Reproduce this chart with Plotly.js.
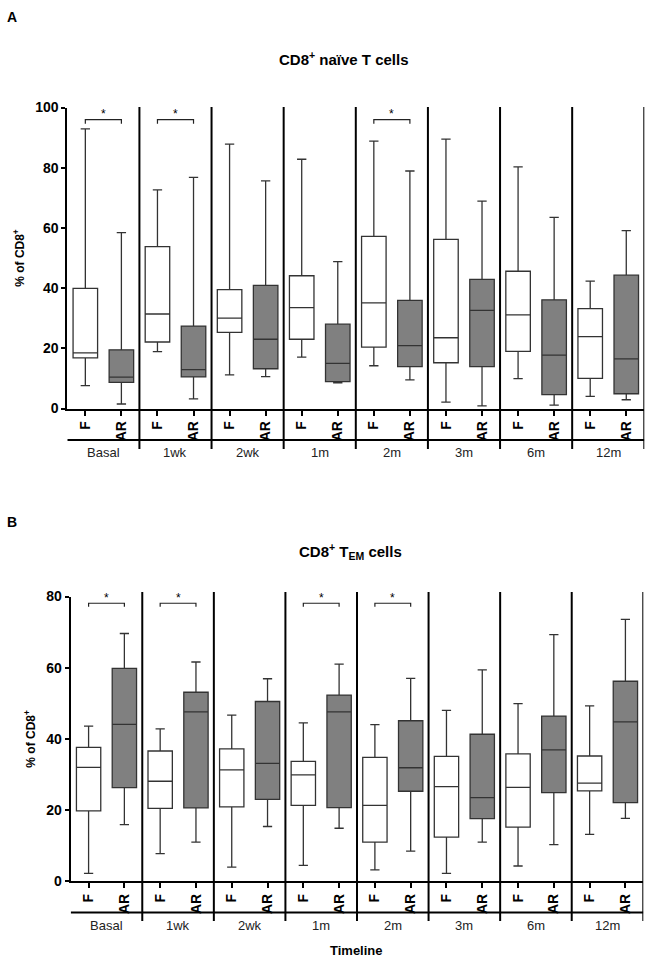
<!DOCTYPE html>
<html>
<head>
<meta charset="utf-8">
<script src="https://cdn.plot.ly/plotly-3.0.1.min.js"></script>
<style>html,body{margin:0;padding:0;background:#fff;}#chart{width:652px;height:960px;}</style>
</head>
<body>
<div id="chart"></div>
<script>
// ---------- DATA ----------
const groups = ['Basal', '1wk', '2wk', '1m', '2m', '3m', '6m', '12m'];
const subLabels = ['F', 'AR'];

// Panel A: CD8+ naive T cells (% of CD8+)
const naiveF_lo  = [7.6, 18.9, 11.2, 17.1, 14.2, 2.1, 9.9, 4.0];
const naiveF_q1  = [16.8, 22.1, 25.3, 23.0, 20.4, 15.2, 19.0, 10.0];
const naiveF_med = [18.5, 31.4, 30.0, 33.5, 35.1, 23.5, 31.1, 23.9];
const naiveF_q3  = [39.9, 53.8, 39.5, 44.1, 57.2, 56.2, 45.6, 33.2];
const naiveF_hi  = [92.9, 72.6, 87.8, 82.8, 88.8, 89.5, 80.3, 42.3];

const naiveAR_lo  = [1.5, 3.2, 10.6, 8.5, 9.5, 0.9, 1.1, 2.9];
const naiveAR_q1  = [8.7, 10.5, 13.2, 8.9, 13.9, 13.9, 4.6, 4.9];
const naiveAR_med = [10.4, 12.9, 23.0, 15.0, 20.9, 32.6, 17.7, 16.5];
const naiveAR_q3  = [19.5, 27.4, 40.9, 28.0, 35.9, 42.9, 36.1, 44.3];
const naiveAR_hi  = [58.4, 76.8, 75.6, 48.8, 78.9, 68.9, 63.5, 59.1];

// Panel B: CD8+ TEM cells (% of CD8+)
const temF_lo  = [2.2, 7.8, 4.0, 4.5, 3.2, 2.2, 4.3, 13.2];
const temF_q1  = [19.8, 20.5, 20.9, 21.3, 11.0, 12.4, 15.2, 25.4];
const temF_med = [32.0, 28.1, 31.3, 29.9, 21.3, 26.6, 26.4, 27.6];
const temF_q3  = [37.6, 36.6, 37.2, 33.7, 34.8, 35.1, 35.8, 35.2];
const temF_hi  = [43.6, 42.8, 46.7, 44.5, 44.0, 48.0, 49.9, 49.3];

const temAR_lo  = [15.9, 11.0, 15.4, 14.9, 8.5, 11.0, 10.3, 17.7];
const temAR_q1  = [26.3, 20.6, 23.0, 20.7, 25.3, 17.6, 24.9, 22.1];
const temAR_med = [44.1, 47.6, 33.1, 47.6, 31.9, 23.5, 36.9, 44.8];
const temAR_q3  = [59.8, 53.1, 50.5, 52.3, 45.1, 41.3, 46.4, 56.2];
const temAR_hi  = [69.6, 61.6, 56.9, 61.0, 57.0, 59.4, 69.3, 73.6];

// significant comparisons (F vs AR) per panel
const naiveSig = ['Basal', '1wk', '2m'];
const temSig   = ['Basal', '1wk', '1m', '2m'];

// ---------- HELPERS ----------
const W = 652, H = 960;
const px = v => v / W;
const py = v => 1 - v / H;
const FONT = 'Liberation Sans, Arial, sans-serif';
const posF  = groups.map((g, i) => 2 * i);
const posAR = groups.map((g, i) => 2 * i + 1);

function boxTrace(x, lo, q1, med, q3, hi, fill, xa, ya, name) {
  return {
    type: 'box', name: name, x: x,
    lowerfence: lo, q1: q1, median: med, q3: q3, upperfence: hi,
    xaxis: xa, yaxis: ya,
    fillcolor: fill,
    line: {color: '#333333', width: 1.3},
    width: 0.68, whiskerwidth: 0.38,
    boxpoints: false, showlegend: false, hoverinfo: 'y'
  };
}

const data = [
  boxTrace(posF,  naiveF_lo,  naiveF_q1,  naiveF_med,  naiveF_q3,  naiveF_hi,  '#ffffff', 'x', 'y', 'F'),
  boxTrace(posAR, naiveAR_lo, naiveAR_q1, naiveAR_med, naiveAR_q3, naiveAR_hi, '#808080', 'x', 'y', 'AR'),
  boxTrace(posF,  temF_lo,  temF_q1,  temF_med,  temF_q3,  temF_hi,  '#ffffff', 'x2', 'y2', 'F'),
  boxTrace(posAR, temAR_lo, temAR_q1, temAR_med, temAR_q3, temAR_hi, '#808080', 'x2', 'y2', 'AR')
];

const tickvals = groups.flatMap((g, i) => [2 * i, 2 * i + 1]);
const ticktext = groups.flatMap(() => subLabels);

function xAxis(domain, anchor) {
  return {
    domain: domain, anchor: anchor, range: [-0.5, 15.5],
    showline: true, linecolor: '#000', linewidth: 2,
    ticks: 'outside', ticklen: 5, tickwidth: 2, tickcolor: '#000',
    tickvals: tickvals, ticktext: ticktext, tickangle: -90,
    tickfont: {family: FONT, size: 14, color: '#000', weight: 'bold'},
    showgrid: false, zeroline: false, fixedrange: true
  };
}
function yAxis(domain, anchor, max) {
  return {
    domain: domain, anchor: anchor, range: [0, max],
    showline: true, linecolor: '#000', linewidth: 2,
    ticks: 'outside', ticklen: 4, tickwidth: 2, tickcolor: '#000',
    dtick: 20, tick0: 0,
    tickfont: {family: FONT, size: 14, color: '#000', weight: 'bold'},
    showgrid: false, zeroline: false, fixedrange: true,
    title: {text: '% of CD8<sup>+</sup>', standoff: 8,
            font: {family: FONT, size: 12, color: '#000', weight: 'bold'}}
  };
}

const shapes = [];
const annotations = [];

function panelDecor(xref, topPx, bottomLinePx, sepBottomPx, labelPx, sig, yref, brY, legDrop, starY) {
  // vertical group separators
  for (let i = 0; i < groups.length; i++) {
    const xv = 2 * i + 1.5;
    shapes.push({type: 'line', xref: xref, yref: 'paper', x0: xv, x1: xv,
      y0: py(sepBottomPx), y1: py(topPx), line: {color: '#000', width: 2}});
  }
  // lower horizontal line under sub labels
  shapes.push({type: 'line', xref: xref, yref: 'paper', x0: -0.5, x1: 15.5,
    y0: py(bottomLinePx), y1: py(bottomLinePx), line: {color: '#000', width: 2}});
  // group labels
  groups.forEach((g, i) => {
    annotations.push({xref: xref, yref: 'paper', x: 2 * i + 0.5, y: py(labelPx),
      text: g, showarrow: false, xanchor: 'center', yanchor: 'middle',
      font: {family: FONT, size: 13, color: '#222'}});
  });
  // significance brackets
  sig.forEach(g => {
    const i = groups.indexOf(g);
    const x0 = 2 * i, x1 = 2 * i + 1;
    shapes.push({type: 'path', xref: xref, yref: yref, layer: 'above',
      path: `M ${x0},${brY - legDrop} L ${x0},${brY} L ${x1},${brY} L ${x1},${brY - legDrop}`,
      line: {color: '#222222', width: 1.2}});
    annotations.push({xref: xref, yref: yref, x: 2 * i + 0.5, y: starY, text: '*',
      showarrow: false, xanchor: 'center', yanchor: 'middle',
      font: {family: FONT, size: 12, color: '#000000'}});
  });
}

panelDecor('x', 107, 440, 449, 452, naiveSig, 'y', 96, 1.4, 98.0);
panelDecor('x2', 592, 912.5, 921, 925, temSig, 'y2', 78.1, 1.0, 79.6);

// titles & panel letters
annotations.push({xref: 'paper', yref: 'paper', x: px(12), y: py(17), text: '<b>A</b>',
  showarrow: false, xanchor: 'center', yanchor: 'middle', font: {family: FONT, size: 14, color: '#000'}});
annotations.push({xref: 'paper', yref: 'paper', x: px(12), y: py(522), text: '<b>B</b>',
  showarrow: false, xanchor: 'center', yanchor: 'middle', font: {family: FONT, size: 14, color: '#000'}});
annotations.push({xref: 'paper', yref: 'paper', x: px(344), y: py(58), text: '<b>CD8<sup>+</sup> naïve T cells</b>',
  showarrow: false, xanchor: 'center', yanchor: 'middle', font: {family: FONT, size: 15, color: '#000'}});
annotations.push({xref: 'paper', yref: 'paper', x: px(350), y: py(551), text: '<b>CD8<sup>+</sup> T<sub>EM</sub> cells</b>',
  showarrow: false, xanchor: 'center', yanchor: 'middle', font: {family: FONT, size: 15, color: '#000'}});
annotations.push({xref: 'paper', yref: 'paper', x: px(357), y: py(950), text: '<b>Timeline</b>',
  showarrow: false, xanchor: 'center', yanchor: 'middle', font: {family: FONT, size: 13, color: '#000'}});

const layout = {
  width: W, height: H,
  margin: {l: 0, r: 0, t: 0, b: 0},
  paper_bgcolor: '#fff', plot_bgcolor: '#fff',
  showlegend: false,
  boxmode: 'overlay',
  xaxis: xAxis([px(67.3), px(644.3)], 'y'),
  yaxis: yAxis([py(408.5), py(107.5)], 'x', 100),
  xaxis2: xAxis([px(70.7), px(643.3)], 'y2'),
  yaxis2: yAxis([py(881.3), py(596.5)], 'x2', 80),
  shapes: shapes,
  annotations: annotations
};

Plotly.newPlot('chart', data, layout, {staticPlot: true, displayModeBar: false});
</script>
</body>
</html>
